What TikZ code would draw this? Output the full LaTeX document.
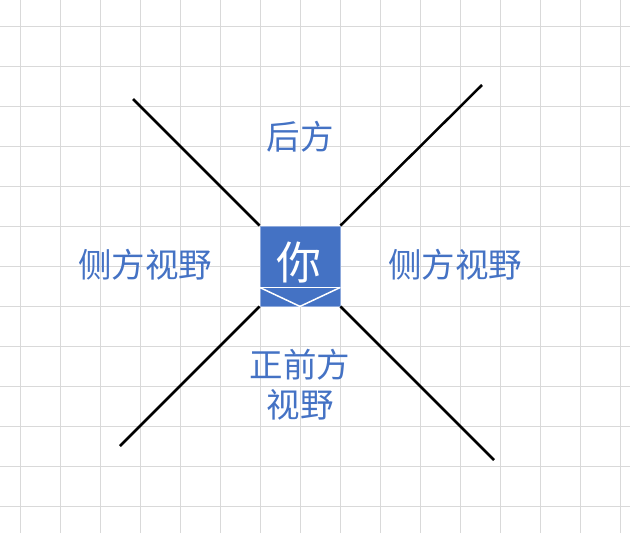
\documentclass[tikz,border=0pt]{standalone}
\usepackage{fontspec}
\setmainfont{Noto Sans CJK SC}
\definecolor{youblue}{HTML}{4472C4}
\definecolor{gridgray}{HTML}{D9D9D9}
\tikzset{
  viewline/.style={line width=2.5pt, black},
  viewlabel/.style={text=youblue, font=\fontsize{33.5}{40}\selectfont, align=center, inner sep=0pt},
  youbox/.style={fill=youblue, draw=youblue!60!white, line width=0.8pt, minimum width=80pt, minimum height=80pt, inner sep=0pt}
}
\begin{document}
\begin{tikzpicture}[x=1pt, y=-1pt]
\useasboundingbox (0,0) rectangle (630,533);
% grid
\foreach \gx in {20,60,...,620} \draw[gridgray, line width=0.9pt] (\gx,0)--(\gx,533);
\foreach \gy in {26,66,...,506} \draw[gridgray, line width=0.9pt] (0,\gy)--(630,\gy);
% you
\node[youbox] (you) at (300,266) {};
\node[text=white, font=\fontsize{45}{48}\selectfont, inner sep=0pt] (ni) at (299,263) {你};
\coordinate (vl) at ([yshift=19pt]you.south west);
\coordinate (vr) at ([yshift=19pt]you.south east);
\draw[white, line width=1.5pt] (vl)--(vr);
\draw[white, line width=1.5pt] (vl)--(you.south)--(vr);
% view lines
\coordinate (tl) at (133,99);
\coordinate (tr) at (482,85);
\coordinate (bl) at (120,446);
\coordinate (br) at (494,460);
\draw[viewline] (tl)--(you.north west);
\draw[viewline] (tr)--(you.north east);
\draw[viewline] (bl)--(you.south west);
\draw[viewline] (br)--(you.south east);
% labels
\node[viewlabel] (back) at (300,137) {后方};
\node[viewlabel] (leftside) at (145,265) {侧方视野};
\node[viewlabel] (rightside) at (455,265) {侧方视野};
\node[viewlabel] (front) at (300,385) {正前方\\视野};
\end{tikzpicture}
\end{document}
